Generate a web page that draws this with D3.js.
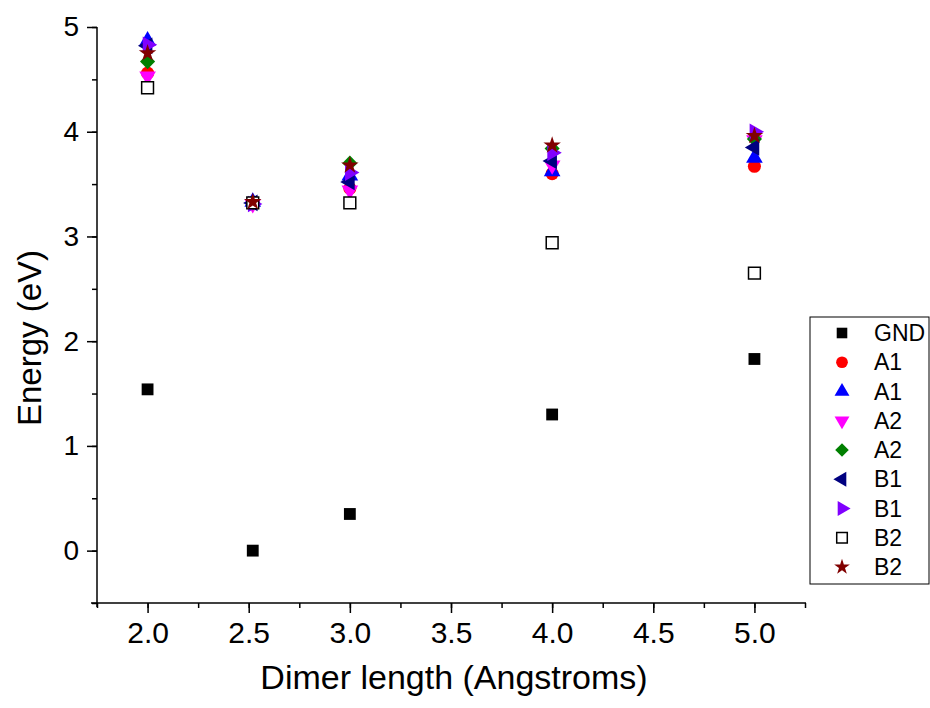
<!DOCTYPE html>
<meta charset="utf-8">
<style>
body { margin: 0; background: white; font-family: 'Liberation Sans', Arial, sans-serif; }
.axis path, .axis line { stroke: black; stroke-width: 1.5px; }
</style>
<body>
<script src="https://cdn.jsdelivr.net/npm/d3@7"></script>
<script>
// x positions (Angstroms)
var dimer = [2.0, 2.52, 3.0, 4.0, 5.0];

// energies (eV) per state
var gnd   = [1.54, 0.00, 0.35, 1.30, 1.83];
var a1c   = [4.56, 3.32, 3.46, 3.60, 3.67];
var a1t   = [4.87, 3.33, 3.58, 3.62, 3.75];
var a2d   = [4.53, 3.31, 3.44, 3.68, 3.92];
var a2m   = [4.67, 3.32, 3.70, 3.84, 3.93];
var b1l   = [4.82, 3.32, 3.52, 3.72, 3.85];
var b1r   = [4.83, 3.31, 3.61, 3.80, 4.00];
var b2s   = [4.42, 3.32, 3.32, 2.94, 2.65];
var b2star= [4.75, 3.33, 3.68, 3.87, 3.96];

var names = ["GND", "A1", "A1", "A2", "A2", "B1", "B1", "B2", "B2"];
var xTicks = [2.0, 2.5, 3.0, 3.5, 4.0, 4.5, 5.0];
var yTicks = [0, 1, 2, 3, 4, 5];

var series = [
  { name: names[0], vals: gnd,    shape: "square",  fill: "#000000", stroke: "none" },
  { name: names[1], vals: a1c,    shape: "circle",  fill: "#ff0000", stroke: "none" },
  { name: names[2], vals: a1t,    shape: "up",      fill: "#0000ff", stroke: "none" },
  { name: names[3], vals: a2d,    shape: "down",    fill: "#ff00ff", stroke: "none" },
  { name: names[4], vals: a2m,    shape: "diamond", fill: "#008000", stroke: "none" },
  { name: names[5], vals: b1l,    shape: "left",    fill: "#000080", stroke: "none" },
  { name: names[6], vals: b1r,    shape: "right",   fill: "#8000ff", stroke: "none" },
  { name: names[7], vals: b2s,    shape: "square",  fill: "#ffffff", stroke: "#000000" },
  { name: names[8], vals: b2star, shape: "star",    fill: "#800000", stroke: "none" }
];

var W = 930, H = 708;
var svg = d3.select("body").append("svg").attr("width", W).attr("height", H);

var x = d3.scaleLinear().domain([1.75, 5.25]).range([97, 805]);
var y = d3.scaleLinear().domain([-0.5, 5]).range([603, 27]);

function symbolPath(shape, k) {
  k = k || 1;
  var sym, rot = 0;
  if (shape === "square") sym = d3.symbol(d3.symbolSquare, 140 * k);
  else if (shape === "circle") sym = d3.symbol(d3.symbolCircle, 135 * k);
  else if (shape === "diamond") { sym = d3.symbol(d3.symbolSquare, 115 * k); rot = 45; }
  else if (shape === "star") sym = d3.symbol(d3.symbolStar, 95 * k);
  else {
    sym = d3.symbol(d3.symbolTriangle, 120 * k);
    rot = { up: 0, down: 180, left: -90, right: 90 }[shape];
  }
  return { d: sym(), rot: rot };
}

// axes
var xMinor = d3.range(1.75, 5.26, 0.25);
var yMinor = d3.range(-0.5, 5.01, 0.5);

var gx = svg.append("g").attr("class", "axis").attr("transform", "translate(0,603)");
gx.call(d3.axisBottom(x).tickValues(xMinor).tickSize(5).tickFormat(""));
gx.call(g => g.select(".domain").attr("d", "M91,0H806"));
gx.append("g").call(d3.axisBottom(x).tickValues(xTicks).tickSize(10).tickPadding(9).tickFormat(d3.format(".1f")))
  .call(g => g.select(".domain").remove())
  .selectAll("text")
  .attr("fill", "black")
  .style("font-size", "30px");

var gy = svg.append("g").attr("class", "axis").attr("transform", "translate(97,0)");
gy.call(d3.axisLeft(y).tickValues(yMinor).tickSize(5).tickFormat(""));
gy.call(g => g.select(".domain").attr("d", "M0,27V607"));
gy.append("g").call(d3.axisLeft(y).tickValues(yTicks).tickSize(10).tickPadding(8).tickFormat(d3.format("d")))
  .call(g => g.select(".domain").remove())
  .selectAll("text")
  .attr("fill", "black")
  .style("font-size", "28px");

// titles
svg.append("text")
  .attr("x", 454).attr("y", 689)
  .attr("text-anchor", "middle")
  .style("font-size", "34px")
  .text("Dimer length (Angstroms)");

svg.append("text")
  .attr("transform", "translate(41,338) rotate(-90)")
  .attr("text-anchor", "middle")
  .style("font-size", "33px")
  .text("Energy (eV)");

// points
series.forEach(function(s) {
  var p = symbolPath(s.shape);
  svg.append("g").selectAll("path")
    .data(s.vals)
    .enter()
    .append("path")
    .attr("d", p.d)
    .attr("transform", (d, i) => "translate(" + x(dimer[i]) + "," + y(d) + ") rotate(" + p.rot + ")")
    .attr("fill", s.fill)
    .attr("stroke", s.stroke)
    .attr("stroke-width", 1.5);
});

// legend
var leg = svg.append("g");
leg.append("rect")
  .attr("x", 810).attr("y", 317).attr("width", 119).attr("height", 267)
  .attr("fill", "white").attr("stroke", "black").attr("stroke-width", 1);

var legY = d3.scalePoint().domain(d3.range(series.length)).range([333, 567]);
series.forEach(function(s, i) {
  var p = symbolPath(s.shape, 0.8);
  leg.append("path")
    .attr("d", p.d)
    .attr("transform", "translate(842," + legY(i) + ") rotate(" + p.rot + ")")
    .attr("fill", s.fill)
    .attr("stroke", s.stroke)
    .attr("stroke-width", 1.5);
  leg.append("text")
    .attr("x", 874).attr("y", legY(i) + 8)
    .style("font-size", "23px")
    .text(s.name);
});
</script>
</body>
